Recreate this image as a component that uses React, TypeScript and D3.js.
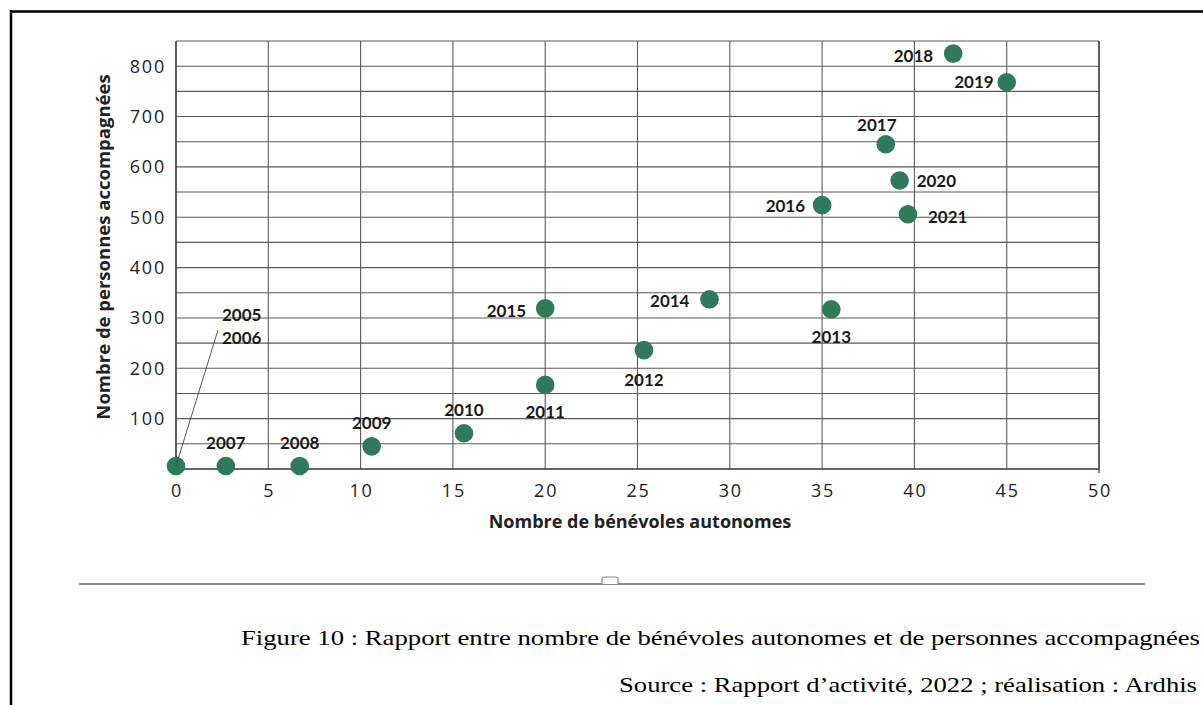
import React from 'react';
import * as d3 from 'd3';

// ---- data ----
const years = ['2005/2006', '2007', '2008', '2009', '2010', '2011', '2012', '2013', '2014', '2015', '2016', '2017', '2018', '2019', '2020', '2021'];
const benevoles = [0, 2.7, 6.7, 10.6, 15.6, 20, 25.35, 35.5, 28.9, 20, 35, 38.45, 42.1, 45, 39.2, 39.65];
const personnes = [6, 6, 6, 45, 71, 167, 236, 317, 337, 319, 524, 645, 825, 768, 573, 506];
const xTicks = [0, 5, 10, 15, 20, 25, 30, 35, 40, 45, 50];
const yTicks = [100, 200, 300, 400, 500, 600, 700, 800];
const yGrid = [50, 100, 150, 200, 250, 300, 350, 400, 450, 500, 550, 600, 650, 700, 750, 800, 850];
const xTitle = 'Nombre de bénévoles autonomes';
const yTitle = 'Nombre de personnes accompagnées';
const caption1 = 'Figure 10 : Rapport entre nombre de bénévoles autonomes et de personnes accompagnées';
const caption2 = 'Source : Rapport d\u2019activité, 2022 ; réalisation : Ardhis';

// ---- label layout (anchor, dx, dy) ----
const labelLayout: [string, number, number][] = [
  ['start', 46, -145],
  ['middle', 0, -17],
  ['middle', 0, -17],
  ['middle', 0, -17],
  ['middle', 0, -17],
  ['middle', 0, 33],
  ['middle', 0, 36],
  ['middle', 0, 34],
  ['end', -20, 8],
  ['end', -19, 9],
  ['end', -17, 7],
  ['middle', -9, -13],
  ['end', -20, 8],
  ['end', -13, 6],
  ['start', 17, 7],
  ['start', 20, 9],
];

const W = 1203;
const H = 705;
const M = { left: 176, right: 1099, top: 41, bottom: 469 };
const GREEN = '#2f7a5b';
const FONT = "'Open Sans', sans-serif";
const LFONT = "Lato, 'Open Sans', sans-serif";
const SERIF = "'Liberation Serif', 'Times New Roman', serif";

export default function App() {
  const x = d3.scaleLinear().domain([0, 50]).range([M.left, M.right]);
  const y = d3.scaleLinear().domain([0, 850]).range([M.bottom, M.top]);
  const pts = years.map((yr, i) => ({ yr, xv: benevoles[i], yv: personnes[i], lay: labelLayout[i] }));

  return (
    <svg width={W} height={H} style={{ position: 'absolute', left: 0, top: 0, background: '#fff' }}>
      <rect x={0} y={0} width={W} height={H} fill="#fff" />
      {/* page border */}
      <line x1={10} x2={W} y1={11.5} y2={11.5} stroke="#000" strokeWidth={2.5} />
      <line x1={11} x2={11} y1={10} y2={H} stroke="#000" strokeWidth={2.5} />

      {/* grid */}
      {yGrid.map((v) => (
        <line key={'gy' + v} x1={M.left} x2={M.right} y1={y(v)} y2={y(v)} stroke="#5a5a5a" strokeWidth={1.1} />
      ))}
      {xTicks.map((v) => (
        <line key={'gx' + v} x1={x(v)} x2={x(v)} y1={M.top} y2={M.bottom} stroke="#5a5a5a" strokeWidth={1.1} />
      ))}
      <line x1={M.left} x2={M.right} y1={M.bottom} y2={M.bottom} stroke="#333" strokeWidth={1.4} />
      <line x1={M.left} x2={M.left} y1={M.top} y2={M.bottom} stroke="#333" strokeWidth={1.2} />
      <line x1={M.right} x2={M.right} y1={M.top} y2={M.bottom + 4} stroke="#333" strokeWidth={1.2} />

      {/* tick labels */}
      {yTicks.map((v) => (
        <text key={'ty' + v} x={166} y={y(v) + 6.5} textAnchor="end" fontFamily={FONT} fontSize={18} fill="#222" letterSpacing={1.8}>
          {v}
        </text>
      ))}
      {xTicks.map((v) => (
        <text key={'tx' + v} x={x(v) + 1} y={497} textAnchor="middle" fontFamily={FONT} fontSize={18} fill="#222" letterSpacing={1.8}>
          {v}
        </text>
      ))}

      {/* axis titles */}
      <text x={640} y={528} textAnchor="middle" fontFamily={FONT} fontSize={18} fontWeight={700} fill="#222">
        {xTitle}
      </text>
      <text transform={`translate(110,247) rotate(-90)`} textAnchor="middle" fontFamily={FONT} fontSize={18.5} fontWeight={700} fill="#222">
        {yTitle}
      </text>

      {/* points */}
      {pts.map((p) => (
        <circle key={'c' + p.yr} cx={x(p.xv)} cy={y(p.yv)} r={9.3} fill={GREEN} />
      ))}

      {/* leader line for 2005/2006 */}
      <line x1={x(pts[0].xv)} y1={y(pts[0].yv)} x2={x(pts[0].xv) + 42} y2={y(pts[0].yv) - 136} stroke="#444" strokeWidth={0.9} />

      {/* labels */}
      {pts.map((p) => {
        const [anchor, dx, dy] = p.lay;
        const cx = x(p.xv) + dx;
        const cy = y(p.yv) + dy;
        if (p.yr.includes('/')) {
          const parts = p.yr.split('/');
          return (
            <g key={'l' + p.yr}>
              <text x={cx} y={cy} textAnchor={anchor as any} fontFamily={LFONT} fontSize={17} fontWeight={700} fill="#1a1a1a">{parts[0]}</text>
              <text x={cx} y={cy + 23} textAnchor={anchor as any} fontFamily={LFONT} fontSize={17} fontWeight={700} fill="#1a1a1a">{parts[1]}</text>
            </g>
          );
        }
        return (
          <text key={'l' + p.yr} x={cx} y={cy} textAnchor={anchor as any} fontFamily={LFONT} fontSize={17} fontWeight={700} fill="#1a1a1a">
            {p.yr}
          </text>
        );
      })}

      {/* separator with handle */}
      <line x1={79} x2={1145} y1={584} y2={584} stroke="#666" strokeWidth={1.5} />
      <path d="M602,584 L602,579 Q602,577 604,577 L616,577 Q618,577 618,579 L618,584" fill="#fff" stroke="#888" strokeWidth={1.2} />

      {/* caption */}
      <text x={241} y={645} fontFamily={SERIF} fontSize={22} fill="#000" textLength={959} lengthAdjust="spacingAndGlyphs">
        {caption1}
      </text>
      <text x={619} y={692} fontFamily={SERIF} fontSize={22} fill="#000" textLength={578} lengthAdjust="spacingAndGlyphs">
        {caption2}
      </text>
    </svg>
  );
}
